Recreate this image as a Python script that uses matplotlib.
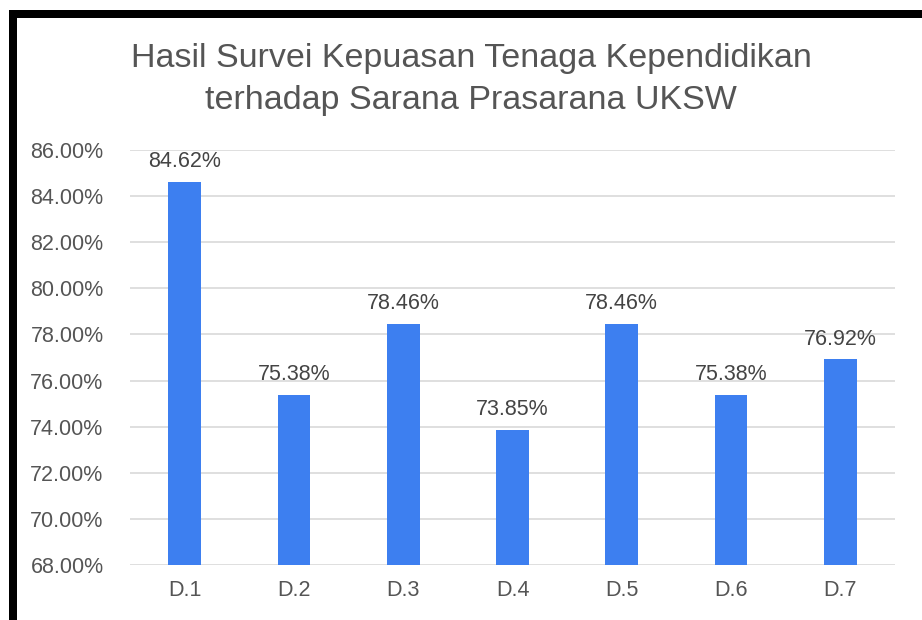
import matplotlib.pyplot as plt
import matplotlib.patches as patches

categories = ['D.1', 'D.2', 'D.3', 'D.4', 'D.5', 'D.6', 'D.7']
values = [84.62, 75.38, 78.46, 73.85, 78.46, 75.38, 76.92]
yticks = [68, 70, 72, 74, 76, 78, 80, 82, 84, 86]

plt.rcParams['font.family'] = ['Liberation Sans', 'DejaVu Sans']

fig = plt.figure(figsize=(9.22, 6.2), dpi=100)
W, H = 922, 620

ax = fig.add_axes([130 / W, 1 - 565 / H, 765 / W, 415 / H])

bar_color = '#3d7ff0'
x = list(range(len(categories)))
ax.bar(x, values, width=0.3, color=bar_color, zorder=3)

for xi, v in zip(x, values):
    ax.annotate(f'{v:.2f}%', (xi, v), xytext=(0, 7), textcoords='offset points',
                ha='center', va='bottom', fontsize=15.5, color='#444444')

ax.set_ylim(68, 86)
ax.set_xlim(-0.5, len(categories) - 0.5)
ax.set_yticks(yticks)
ax.set_yticklabels([f'{t:.2f}%' for t in yticks])
ax.set_xticks(x)
ax.set_xticklabels(categories)
ax.tick_params(axis='both', length=0, labelsize=15.5, labelcolor='#555555')
ax.tick_params(axis='y', pad=19)
ax.tick_params(axis='x', pad=11)
ax.grid(axis='y', color='#d9d9d9', linewidth=1.2, zorder=0)
for s in ax.spines.values():
    s.set_visible(False)

# title
fig.text(471 / W, 1 - 58 / H, 'Hasil Survei Kepuasan Tenaga Kependidikan',
         ha='center', va='center', fontsize=24.5, color='#555555')
fig.text(471 / W, 1 - 101 / H, 'terhadap Sarana Prasarana UKSW',
         ha='center', va='center', fontsize=24.5, color='#555555')

# black frame (top and left)
fig.add_artist(patches.Rectangle((9 / W, 0), 8 / W, 1 - 10 / H, transform=fig.transFigure,
                                 facecolor='black', edgecolor='none'))
fig.add_artist(patches.Rectangle((9 / W, 1 - 18 / H), 1, 8 / H, transform=fig.transFigure,
                                 facecolor='black', edgecolor='none'))

fig.savefig('out.png', dpi=100, facecolor='white')
